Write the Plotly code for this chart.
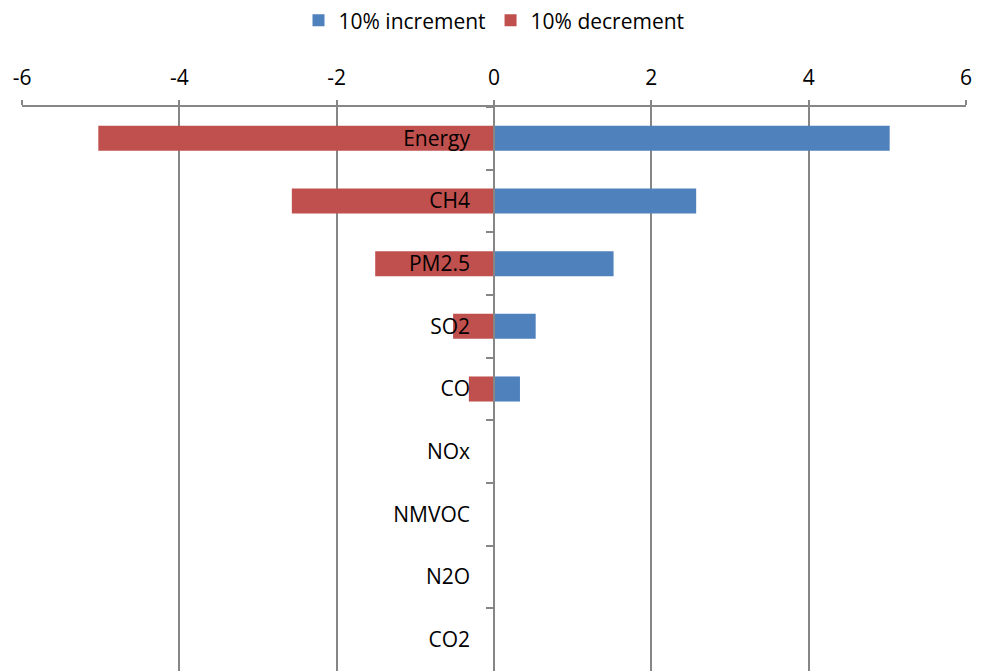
import plotly.graph_objects as go

# Sensitivity of the result to a 10% change in each input
categories = ["Energy", "CH4", "PM2.5", "SO2", "CO", "NOx", "NMVOC", "N2O", "CO2"]
increment = [5.03, 2.57, 1.52, 0.53, 0.33, 0.0, 0.0, 0.0, 0.0]
decrement = [-5.03, -2.57, -1.51, -0.52, -0.32, 0.0, 0.0, 0.0, 0.0]
x_ticks = [-6, -4, -2, 0, 2, 4, 6]

BLUE = "#4F81BD"
RED = "#C0504D"
GRID = "#868686"
FONT = dict(family="Open Sans", size=21, color="#000000")

fig = go.Figure()
fig.add_trace(go.Bar(
    y=categories, x=increment, orientation="h", name="10% increment",
    marker=dict(color=BLUE, line=dict(width=0)), width=0.4,
))
fig.add_trace(go.Bar(
    y=categories, x=decrement, orientation="h", name="10% decrement",
    marker=dict(color=RED, line=dict(width=0)), width=0.4,
))

fig.update_layout(
    width=983, height=671,
    margin=dict(l=22, r=17, t=107, b=0),
    paper_bgcolor="white", plot_bgcolor="white",
    barmode="overlay",
    font=FONT,
    showlegend=True,
    legend=dict(
        orientation="h", x=0.5, xanchor="center", y=1.153, yanchor="middle",
        font=FONT, bgcolor="rgba(0,0,0,0)", itemwidth=30, traceorder="normal",
    ),
    xaxis=dict(
        side="top", range=[-6, 6], tickmode="array", tickvals=x_ticks,
        ticktext=[str(v) for v in x_ticks],
        showgrid=True, gridcolor=GRID, gridwidth=1.5,
        showline=True, linecolor=GRID, linewidth=1.5,
        ticks="outside", ticklen=5, tickcolor=GRID, tickwidth=1.5,
        zeroline=False, ticklabelstandoff=7, tickfont=FONT,
    ),
    yaxis=dict(
        type="category", categoryorder="array", categoryarray=categories,
        autorange="reversed",
        anchor="free", position=0.5,
        showline=True, linecolor=GRID, linewidth=1.5,
        ticks="outside", ticklen=7, tickcolor=GRID, tickwidth=1.5,
        tickson="boundaries", showgrid=False, zeroline=False,
        ticklabelstandoff=19, tickfont=FONT,
    ),
)

fig.write_html("out.html")
